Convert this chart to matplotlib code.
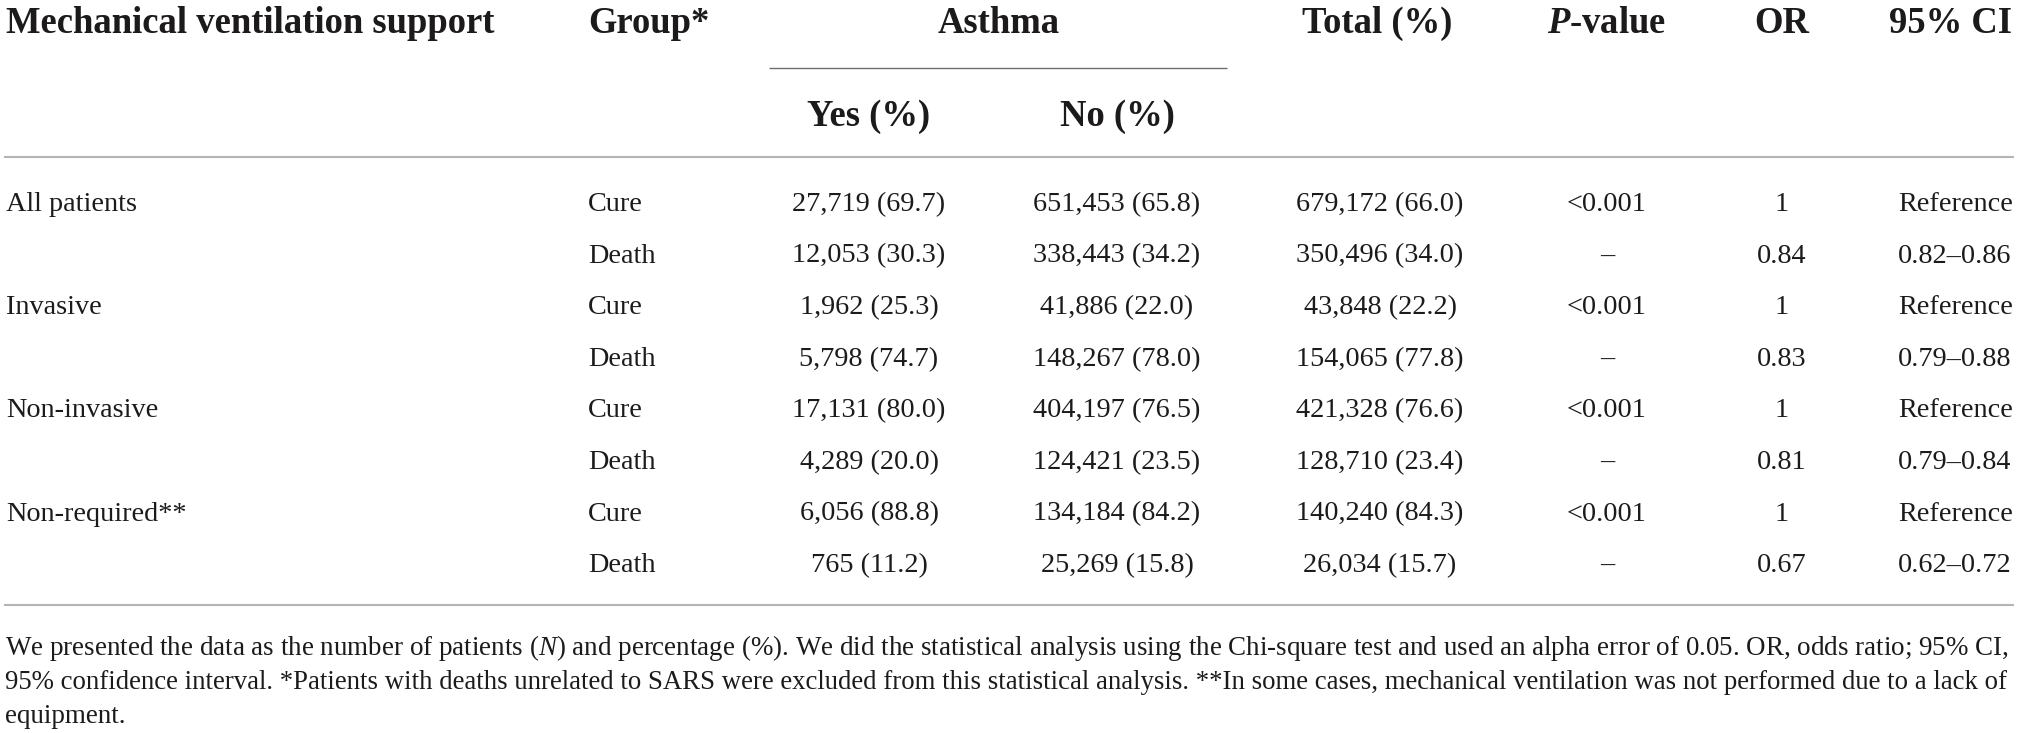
import matplotlib
matplotlib.use("Agg")
import matplotlib.pyplot as plt

plt.rcParams['font.family'] = ['Liberation Serif', 'DejaVu Serif']
plt.rcParams['mathtext.fontset'] = 'custom'
plt.rcParams['mathtext.rm'] = 'Liberation Serif'
plt.rcParams['mathtext.it'] = 'Liberation Serif:italic'
plt.rcParams['mathtext.bf'] = 'Liberation Serif:bold'
plt.rcParams['mathtext.bfit'] = 'Liberation Serif:italic:bold'

# ---------------- data ----------------
support = ["All patients", "Invasive", "Non-invasive", "Non-required**"]
outcome = ["Cure", "Death"]
yes_n = [27719, 12053, 1962, 5798, 17131, 4289, 6056, 765]
yes_pct = [69.7, 30.3, 25.3, 74.7, 80.0, 20.0, 88.8, 11.2]
no_n = [651453, 338443, 41886, 148267, 404197, 124421, 134184, 25269]
no_pct = [65.8, 34.2, 22.0, 78.0, 76.5, 23.5, 84.2, 15.8]
tot_n = [679172, 350496, 43848, 154065, 421328, 128710, 140240, 26034]
tot_pct = [66.0, 34.0, 22.2, 77.8, 76.6, 23.4, 84.3, 15.7]
p_values = ["<0.001", "\u2013", "<0.001", "\u2013", "<0.001", "\u2013", "<0.001", "\u2013"]
odds_ratio = ["1", "0.84", "1", "0.83", "1", "0.81", "1", "0.67"]
ci95 = ["Reference", "0.82\u20130.86", "Reference", "0.79\u20130.88",
        "Reference", "0.79\u20130.84", "Reference", "0.62\u20130.72"]

headers = ["Mechanical ventilation support", "Group*", "Asthma",
           "Total (%)", r"$\mathbfit{P}$-value", "OR", "95% CI"]
subheaders = ["Yes (%)", "No (%)"]

footnote = [
    r"We presented the data as the number of patients ($\mathit{N}$) and percentage (%). "
    r"We did the statistical analysis using the Chi-square test and used an alpha error of 0.05. "
    r"OR, odds ratio; 95% CI,",
    "95% confidence interval. *Patients with deaths unrelated to SARS were excluded from this "
    "statistical analysis. **In some cases, mechanical ventilation was not performed due to a lack of",
    "equipment.",
]

# ---------------- figure ----------------
W, H = 2021, 733
fig = plt.figure(figsize=(W / 100, H / 100), dpi=100)
ax = fig.add_axes([0, 0, 1, 1])
ax.set_xlim(0, W)
ax.set_ylim(H, 0)
ax.axis('off')
renderer = fig.canvas.get_renderer()

TXT = '#1c1a1a'


def width(txt, size, **kw):
    t = ax.text(0, 0, txt, fontsize=size, **kw)
    w = t.get_window_extent(renderer).width
    t.remove()
    return w


def fit(txt, target, **kw):
    return 20 * target / width(txt, 20, **kw)


HDR = fit(headers[0], 488, fontweight='bold')
BODY = fit("27,719 (69.7)", 153)
FOOT1 = fit(footnote[0], 2004)
FOOT2 = fit(footnote[1], 2002)

# header row
hy1, hy2 = 33, 126
ax.text(6, hy1, headers[0], fontsize=HDR, fontweight='bold', ha='left', va='baseline', color=TXT)
ax.text(588, hy1, headers[1], fontsize=HDR, fontweight='bold', ha='left', va='baseline', color=TXT)
ax.text(999, hy1, headers[2], fontsize=HDR, fontweight='bold', ha='center', va='baseline', color=TXT)
ax.text(1377, hy1, headers[3], fontsize=HDR, fontweight='bold', ha='center', va='baseline', color=TXT)
ax.text(1607, hy1, headers[4], fontsize=HDR, fontweight='bold', ha='center', va='baseline', color=TXT)
ax.text(1782, hy1, headers[5], fontsize=HDR, fontweight='bold', ha='center', va='baseline', color=TXT)
w_ci = width(headers[6], HDR, fontweight='bold')
if 1898 + w_ci > 2012:
    ax.text(2012, hy1, headers[6], fontsize=HDR, fontweight='bold', ha='right', va='baseline', color=TXT)
else:
    ax.text(1898, hy1, headers[6], fontsize=HDR, fontweight='bold', ha='left', va='baseline', color=TXT)
ax.text(869, hy2, subheaders[0], fontsize=HDR, fontweight='bold', ha='center', va='baseline', color=TXT)
ax.text(1117, hy2, subheaders[1], fontsize=HDR, fontweight='bold', ha='center', va='baseline', color=TXT)

# rules
ax.plot([769, 1227], [68, 68], color='#6e6e6e', lw=1.0, solid_capstyle='butt')
ax.plot([4, 2014], [157, 157], color='#b4b4b4', lw=1.5, solid_capstyle='butt')
ax.plot([4, 2014], [605, 605], color='#b4b4b4', lw=1.5, solid_capstyle='butt')

# body rows
y0, dy = 211, 51.6
for i in range(8):
    y = y0 + i * dy
    if i % 2 == 0:
        ax.text(6, y, support[i // 2], fontsize=BODY, ha='left', va='baseline', color=TXT)
    ax.text(588, y, outcome[i % 2], fontsize=BODY, ha='left', va='baseline', color=TXT)
    ax.text(869, y, f"{yes_n[i]:,} ({yes_pct[i]:.1f})", fontsize=BODY, ha='center', va='baseline', color=TXT)
    ax.text(1117, y, f"{no_n[i]:,} ({no_pct[i]:.1f})", fontsize=BODY, ha='center', va='baseline', color=TXT)
    ax.text(1380, y, f"{tot_n[i]:,} ({tot_pct[i]:.1f})", fontsize=BODY, ha='center', va='baseline', color=TXT)
    ax.text(1607, y, p_values[i], fontsize=BODY, ha='center', va='baseline', color=TXT)
    ax.text(1782, y, odds_ratio[i], fontsize=BODY, ha='center', va='baseline', color=TXT)
    ax.text(1898, y, ci95[i], fontsize=BODY, ha='left', va='baseline', color=TXT)

# footnote
fy = [655, 689, 723]
ax.text(5, fy[0], footnote[0], fontsize=FOOT1, ha='left', va='baseline', color=TXT)
ax.text(5, fy[1], footnote[1], fontsize=FOOT2, ha='left', va='baseline', color=TXT)
ax.text(5, fy[2], footnote[2], fontsize=FOOT1, ha='left', va='baseline', color=TXT)

fig.savefig("out.png", dpi=100)
